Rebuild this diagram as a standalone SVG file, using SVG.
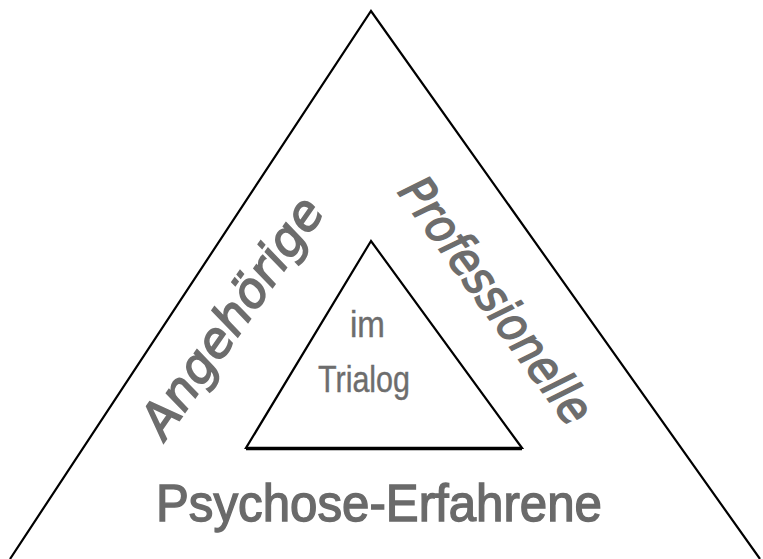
<svg xmlns="http://www.w3.org/2000/svg" width="763" height="559" viewBox="0 0 763 559">
<style>
.tri{fill:none;stroke:#000;stroke-width:2.2;stroke-linejoin:miter}
.lbl{fill:#6d6d6d;stroke:#6d6d6d;stroke-width:1.6;font-family:"DejaVu Sans","Liberation Sans",sans-serif}
.hand{font-style:italic;font-size:48px}
.inner{font-family:"Liberation Sans",Arial,sans-serif;font-size:36px;fill:#6d6d6d;stroke:#6d6d6d;stroke-width:0.4}
.base{font-family:"Liberation Sans",Arial,sans-serif;font-size:52px;fill:#6a6a6a;stroke:#6a6a6a;stroke-width:1.4}
</style>
<rect width="763" height="559" fill="#fff"/>
<g id="outer-triangle">
<polyline class="tri" points="10,559 371,11 760,559"/>
</g>
<g id="inner-triangle">
<polygon class="tri" points="371,241 246,448 522,448"/>
<line x1="246" y1="448.5" x2="522" y2="448.5" stroke="#000" stroke-width="3.5"/>
</g>
<g id="angehoerige">
<text class="lbl hand" transform="translate(165,441) rotate(-55)" x="0" y="0" textLength="280" lengthAdjust="spacingAndGlyphs">Angehörige</text>
</g>
<g id="professionelle">
<text class="lbl hand" transform="translate(397,192) rotate(54)" x="0" y="0" textLength="292" lengthAdjust="spacingAndGlyphs">Professionelle</text>
</g>
<g id="psychose-erfahrene">
<text class="base" x="156" y="521" textLength="446" lengthAdjust="spacingAndGlyphs">Psychose-Erfahrene</text>
</g>
<g id="im-trialog">
<text class="inner" x="350" y="337" textLength="35" lengthAdjust="spacingAndGlyphs">im</text>
<text class="inner" x="318" y="392" textLength="92" lengthAdjust="spacingAndGlyphs">Trialog</text>
</g>
<g id="connectors"></g>
</svg>
